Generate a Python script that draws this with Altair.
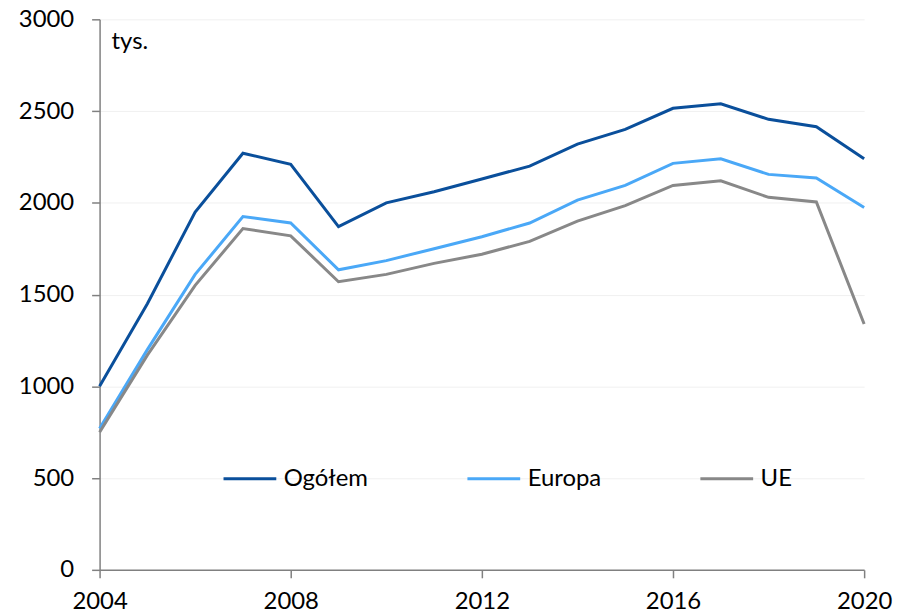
import altair as alt
import pandas as pd

years = list(range(2004, 2021))
ogolem = [1000, 1450, 1950, 2270, 2210, 1870, 2000, 2060, 2130, 2200, 2320, 2400, 2515, 2540, 2455, 2415, 2240]
europa = [770, 1200, 1610, 1925, 1890, 1635, 1685, 1750, 1815, 1890, 2015, 2095, 2215, 2240, 2155, 2135, 1975]
ue = [750, 1170, 1550, 1860, 1820, 1570, 1610, 1670, 1720, 1790, 1900, 1985, 2095, 2120, 2030, 2005, 1340]

series_names = ["Ogółem", "Europa", "UE"]
series_colors = ["#0A4F9B", "#4AA8F7", "#888888"]

rows = []
for name, vals in zip(series_names, [ogolem, europa, ue]):
    for y, v in zip(years, vals):
        rows.append({"rok": y, "wartosc": v, "seria": name})
df = pd.DataFrame(rows)

FONT = "Lato"

lines = alt.Chart(df).mark_line(strokeWidth=3, strokeJoin="miter").encode(
    x=alt.X("rok:Q", scale=alt.Scale(domain=[2004, 2020], nice=False, zero=False),
            axis=alt.Axis(values=[2004, 2008, 2012, 2016, 2020], format="d", title=None,
                          grid=False, tickSize=8, labelPadding=12, labelFlush=False)),
    y=alt.Y("wartosc:Q", scale=alt.Scale(domain=[0, 3000], nice=False),
            axis=alt.Axis(values=[0, 500, 1000, 1500, 2000, 2500, 3000], format="d", title=None,
                          grid=True, tickSize=8, labelPadding=18, labelFlush=False)),
    color=alt.Color("seria:N",
                    scale=alt.Scale(domain=series_names, range=series_colors),
                    sort=series_names,
                    legend=alt.Legend(title=None, orient="none", direction="horizontal",
                                      columns=3, legendX=123, legendY=433.5,
                                      symbolType="stroke", symbolSize=2809,
                                      symbolStrokeWidth=3, labelOffset=6,
                                      columnPadding=93, padding=0,
                                      labelFontSize=24, labelFont=FONT,
                                      labelColor="#000000", labelLimit=300)),
    order=alt.Order("rok:Q"),
)

label = alt.Chart(pd.DataFrame({"t": ["tys."]})).mark_text(
    align="left", baseline="alphabetic", fontSize=24, font=FONT, color="#000000"
).encode(x=alt.value(12), y=alt.value(30), text="t:N")

chart = alt.layer(lines, label).properties(
    width=768, height=553,
    autosize=alt.AutoSizeParams(type="none"),
    padding={"left": 92, "top": 10, "right": 30, "bottom": 45},
).configure_view(stroke=None).configure_axis(
    labelFont=FONT, labelFontSize=24, labelColor="#000000",
    domainColor="#808080", tickColor="#808080", domainWidth=1.5, tickWidth=1.5,
    gridColor="#F0F0F0", gridWidth=1,
)

chart.save("out.html", embed_options={"renderer": "svg", "actions": False})
